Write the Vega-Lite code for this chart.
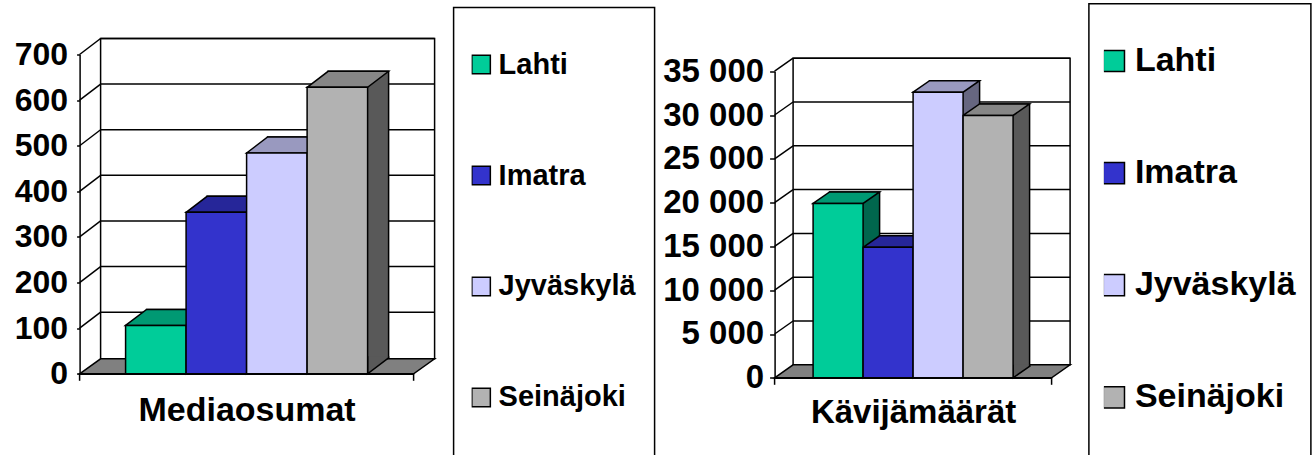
{
  "$schema": "https://vega.github.io/schema/vega-lite/v6.json",
  "background": "white",
  "padding": {"left": 13.6, "top": 2.5, "right": 0, "bottom": 0},
  "spacing": 361,
  "bounds": "flush",
  "datasets": {
    "media": [
      {"city": "Lahti", "v": 106},
      {"city": "Imatra", "v": 354},
      {"city": "Jyväskylä", "v": 484},
      {"city": "Seinäjoki", "v": 628}
    ],
    "visitors": [
      {"city": "Lahti", "v": 19900},
      {"city": "Imatra", "v": 14900},
      {"city": "Jyväskylä", "v": 32600},
      {"city": "Seinäjoki", "v": 29950}
    ],
    "ticks1": [{"t": 100}, {"t": 200}, {"t": 300}, {"t": 400}, {"t": 500}, {"t": 600}, {"t": 700}],
    "ticks2": [{"t": 5000}, {"t": 10000}, {"t": 15000}, {"t": 20000}, {"t": 25000}, {"t": 30000}, {"t": 35000}]
  },
  "hconcat": [
    {
      "width": 334,
      "height": 319.3,
      "resolve": {"scale": {"color": "independent"}},
      "layer": [
        {
          "data": {"values": [{}]},
          "mark": {"type": "rect", "fill": "white", "stroke": "black", "strokeWidth": 1.5, "yOffset": -16, "y2Offset": -15},
          "encoding": {"x": {"value": 21}, "x2": {"value": 355}, "y": {"datum": 700, "type": "quantitative", "title": null}, "y2": {"datum": 0}}
        },
        {
          "data": {"name": "ticks1"},
          "mark": {"type": "rule", "stroke": "black", "strokeWidth": 1.5, "yOffset": -16},
          "encoding": {"x": {"value": 21}, "x2": {"value": 355}, "y": {"field": "t", "type": "quantitative", "title": null}}
        },
        {
          "data": {"name": "ticks1"},
          "mark": {"type": "rule", "stroke": "black", "strokeWidth": 1.5, "y2Offset": -16},
          "encoding": {"x": {"value": 0}, "x2": {"value": 21}, "y": {"field": "t", "type": "quantitative", "title": null}, "y2": {"field": "t"}}
        },
        {
          "data": {"values": [{}]},
          "mark": {"type": "rule", "stroke": "black", "strokeWidth": 1.5, "y2Offset": 7},
          "encoding": {"x": {"value": 0}, "y": {"datum": 0, "type": "quantitative", "title": null}, "y2": {"datum": 0}}
        },
        {
          "data": {"values": [{}]},
          "mark": {"type": "rule", "stroke": "black", "strokeWidth": 1.5, "y2Offset": 7},
          "encoding": {"x": {"value": 334}, "y": {"datum": 0, "type": "quantitative", "title": null}, "y2": {"datum": 0}}
        },
        {
          "data": {"values": [{}]},
          "mark": {"type": "point", "shape": "M 0 0 L 21 -15 L 355 -15 L 334 0 Z", "size": 4, "filled": true, "fill": "#808080", "stroke": "black", "strokeWidth": 1.5, "opacity": 1},
          "encoding": {"x": {"value": 0}, "y": {"datum": 0, "type": "quantitative", "title": null}}
        },
        {
          "data": {"name": "media"},
          "mark": {"type": "bar", "stroke": "black", "strokeWidth": 1.5, "xOffset": 21, "x2Offset": 21, "yOffset": -16, "y2Offset": -16},
          "encoding": {
            "x": {"field": "city", "type": "nominal", "title": "Mediaosumat", "sort": ["Lahti", "Imatra", "Jyväskylä", "Seinäjoki"], "scale": {"paddingInner": 0, "paddingOuter": 0.76}},
            "y": {"field": "v", "type": "quantitative", "title": null},
            "y2": {"datum": 0},
            "color": {"field": "city", "type": "nominal", "legend": null, "scale": {"domain": ["Lahti", "Imatra", "Jyväskylä", "Seinäjoki"], "range": ["#00664D", "#1A1A66", "#666680", "#595959"]}}
          }
        },
        {
          "data": {"name": "media"},
          "mark": {"type": "point", "shape": "M 51.25 -17.5 L 51.25 -16 L 30.25 0 L 30.25 -17.5", "size": 4, "filled": true, "stroke": "black", "strokeWidth": 1.5, "opacity": 1},
          "encoding": {
            "x": {"field": "city", "type": "nominal", "title": "Mediaosumat", "sort": ["Lahti", "Imatra", "Jyväskylä", "Seinäjoki"]},
            "y": {"datum": 0, "type": "quantitative", "title": null},
            "color": {"field": "city", "type": "nominal", "legend": null, "scale": {"domain": ["Lahti", "Imatra", "Jyväskylä", "Seinäjoki"], "range": ["#00664D", "#1A1A66", "#666680", "#595959"]}}
          }
        },
        {
          "data": {"name": "media"},
          "mark": {"type": "point", "shape": "M -30.25 0 L -9.25 -16 L 51.25 -16 L 30.25 0 Z", "size": 4, "filled": true, "stroke": "black", "strokeWidth": 1.5, "opacity": 1},
          "encoding": {
            "x": {"field": "city", "type": "nominal", "title": "Mediaosumat", "sort": ["Lahti", "Imatra", "Jyväskylä", "Seinäjoki"]},
            "y": {"field": "v", "type": "quantitative", "title": null},
            "color": {"field": "city", "type": "nominal", "legend": null, "scale": {"domain": ["Lahti", "Imatra", "Jyväskylä", "Seinäjoki"], "range": ["#009973", "#262699", "#9999BF", "#868686"]}}
          }
        },
        {
          "data": {"name": "media"},
          "mark": {"type": "bar", "stroke": "black", "strokeWidth": 1.5},
          "encoding": {
            "x": {"field": "city", "type": "nominal", "title": "Mediaosumat", "sort": ["Lahti", "Imatra", "Jyväskylä", "Seinäjoki"],
              "axis": {"title": "Mediaosumat", "labels": false, "ticks": false, "domain": true, "titleFontSize": 34, "titlePadding": 20}},
            "y": {"field": "v", "type": "quantitative", "title": null, "scale": {"domain": [0, 700], "nice": false},
              "axis": {"title": null, "values": [0, 100, 200, 300, 400, 500, 600, 700], "tickSize": 3, "labelPadding": 9, "labelFontSize": 32}},
            "y2": {"datum": 0},
            "color": {"field": "city", "type": "nominal",
              "scale": {"domain": ["Lahti", "Imatra", "Jyväskylä", "Seinäjoki"], "range": ["#00CC99", "#3333CC", "#CCCCFF", "#B2B2B2"]},
              "legend": {
                "orient": "none", "legendX": 374, "legendY": -47, "direction": "vertical",
                "title": "\u00a0", "titleOrient": "bottom", "titleFontSize": 12, "titlePadding": 4,
                "padding": 18, "strokeColor": "black",
                "symbolType": "square", "symbolSize": 342, "symbolStrokeColor": "black", "symbolStrokeWidth": 1.5, "symbolOffset": -5,
                "labelFont": "Liberation Sans", "labelFontSize": 29, "labelFontWeight": "bold", "labelColor": "black",
                "labelOffset": 3, "labelLimit": 400, "clipHeight": 78, "rowPadding": 33,
                "encode": {"legend": {"update": {"strokeWidth": {"value": 1.5}}}, "symbols": {"update": {"stroke": {"value": "black"}, "strokeWidth": {"value": 1.5}, "opacity": {"value": 1}}}}
              }
            }
          }
        }
      ]
    },
    {
      "width": 277,
      "height": 323.3,
      "resolve": {"scale": {"color": "independent"}},
      "layer": [
        {
          "data": {"values": [{}]},
          "mark": {"type": "rect", "fill": "white", "stroke": "black", "strokeWidth": 1.5, "yOffset": -13, "y2Offset": -13},
          "encoding": {"x": {"value": 18.5}, "x2": {"value": 295.5}, "y": {"datum": 35000, "type": "quantitative", "title": null}, "y2": {"datum": 0}}
        },
        {
          "data": {"name": "ticks2"},
          "mark": {"type": "rule", "stroke": "black", "strokeWidth": 1.5, "yOffset": -13},
          "encoding": {"x": {"value": 18.5}, "x2": {"value": 295.5}, "y": {"field": "t", "type": "quantitative", "title": null}}
        },
        {
          "data": {"name": "ticks2"},
          "mark": {"type": "rule", "stroke": "black", "strokeWidth": 1.5, "y2Offset": -13},
          "encoding": {"x": {"value": 0}, "x2": {"value": 18.5}, "y": {"field": "t", "type": "quantitative", "title": null}, "y2": {"field": "t"}}
        },
        {
          "data": {"values": [{}]},
          "mark": {"type": "rule", "stroke": "black", "strokeWidth": 1.5, "y2Offset": 7},
          "encoding": {"x": {"value": 0}, "y": {"datum": 0, "type": "quantitative", "title": null}, "y2": {"datum": 0}}
        },
        {
          "data": {"values": [{}]},
          "mark": {"type": "rule", "stroke": "black", "strokeWidth": 1.5, "y2Offset": 7},
          "encoding": {"x": {"value": 277}, "y": {"datum": 0, "type": "quantitative", "title": null}, "y2": {"datum": 0}}
        },
        {
          "data": {"values": [{}]},
          "mark": {"type": "point", "shape": "M 0 0 L 18.5 -13 L 295.5 -13 L 277 0 Z", "size": 4, "filled": true, "fill": "#808080", "stroke": "black", "strokeWidth": 1.5, "opacity": 1},
          "encoding": {"x": {"value": 0}, "y": {"datum": 0, "type": "quantitative", "title": null}}
        },
        {
          "data": {"name": "visitors"},
          "mark": {"type": "bar", "stroke": "black", "strokeWidth": 1.5, "xOffset": 16.5, "x2Offset": 16.5, "yOffset": -11.5, "y2Offset": -11.5},
          "encoding": {
            "x": {"field": "city", "type": "nominal", "title": "Kävijämäärät", "sort": ["Lahti", "Imatra", "Jyväskylä", "Seinäjoki"], "scale": {"paddingInner": 0, "paddingOuter": 0.77}},
            "y": {"field": "v", "type": "quantitative", "title": null},
            "y2": {"datum": 0},
            "color": {"field": "city", "type": "nominal", "legend": null, "scale": {"domain": ["Lahti", "Imatra", "Jyväskylä", "Seinäjoki"], "range": ["#00664D", "#1A1A66", "#666680", "#595959"]}}
          }
        },
        {
          "data": {"name": "visitors"},
          "mark": {"type": "point", "shape": "M 41.5 -13 L 41.5 -11.5 L 25 0 L 25 -13", "size": 4, "filled": true, "stroke": "black", "strokeWidth": 1.5, "opacity": 1},
          "encoding": {
            "x": {"field": "city", "type": "nominal", "title": "Kävijämäärät", "sort": ["Lahti", "Imatra", "Jyväskylä", "Seinäjoki"]},
            "y": {"datum": 0, "type": "quantitative", "title": null},
            "color": {"field": "city", "type": "nominal", "legend": null, "scale": {"domain": ["Lahti", "Imatra", "Jyväskylä", "Seinäjoki"], "range": ["#00664D", "#1A1A66", "#666680", "#595959"]}}
          }
        },
        {
          "data": {"name": "visitors"},
          "mark": {"type": "point", "shape": "M -25 0 L -8.5 -11.5 L 41.5 -11.5 L 25 0 Z", "size": 4, "filled": true, "stroke": "black", "strokeWidth": 1.5, "opacity": 1},
          "encoding": {
            "x": {"field": "city", "type": "nominal", "title": "Kävijämäärät", "sort": ["Lahti", "Imatra", "Jyväskylä", "Seinäjoki"]},
            "y": {"field": "v", "type": "quantitative", "title": null},
            "color": {"field": "city", "type": "nominal", "legend": null, "scale": {"domain": ["Lahti", "Imatra", "Jyväskylä", "Seinäjoki"], "range": ["#009973", "#262699", "#9999BF", "#868686"]}}
          }
        },
        {
          "data": {"name": "visitors"},
          "mark": {"type": "bar", "stroke": "black", "strokeWidth": 1.5},
          "encoding": {
            "x": {"field": "city", "type": "nominal", "title": "Kävijämäärät", "sort": ["Lahti", "Imatra", "Jyväskylä", "Seinäjoki"],
              "axis": {"title": "Kävijämäärät", "labels": false, "ticks": false, "domain": true, "titleFontSize": 33, "titlePadding": 19}},
            "y": {"field": "v", "type": "quantitative", "title": null, "scale": {"domain": [0, 35000], "nice": false, "range": [323.3, 16.7]},
              "axis": {"title": null, "values": [0, 5000, 10000, 15000, 20000, 25000, 30000, 35000], "tickSize": 5, "labelPadding": 6, "labelFontSize": 33,
                "labelExpr": "replace(format(datum.value, ','), ',', ' ')"}},
            "y2": {"datum": 0},
            "color": {"field": "city", "type": "nominal",
              "scale": {"domain": ["Lahti", "Imatra", "Jyväskylä", "Seinäjoki"], "range": ["#00CC99", "#3333CC", "#CCCCFF", "#B2B2B2"]},
              "legend": {
                "orient": "none", "legendX": 314.3, "legendY": -50.7, "direction": "vertical",
                "title": "\u00a0", "titleOrient": "bottom", "titleFontSize": 12, "titlePadding": 4,
                "padding": 15, "strokeColor": "black",
                "symbolType": "square", "symbolSize": 449, "symbolStrokeColor": "black", "symbolStrokeWidth": 1.5, "symbolOffset": -7,
                "labelFont": "Liberation Sans", "labelFontSize": 34, "labelFontWeight": "bold", "labelColor": "black",
                "labelOffset": 4, "labelLimit": 400, "clipHeight": 84.4, "rowPadding": 27.1,
                "encode": {"legend": {"update": {"strokeWidth": {"value": 1.5}}}, "symbols": {"update": {"stroke": {"value": "black"}, "strokeWidth": {"value": 1.5}, "opacity": {"value": 1}}}}
              }
            }
          }
        }
      ]
    }
  ],
  "resolve": {"scale": {"color": "independent"}, "legend": {"color": "independent"}},
  "config": {
    "view": {"stroke": null},
    "font": "Liberation Sans",
    "axis": {
      "grid": false,
      "domainColor": "black", "domainWidth": 1.5,
      "tickColor": "black", "tickWidth": 1.5,
      "labelColor": "black", "labelFont": "Liberation Sans", "labelFontWeight": "bold",
      "titleColor": "black", "titleFont": "Liberation Sans", "titleFontWeight": "bold"
    }
  }
}
